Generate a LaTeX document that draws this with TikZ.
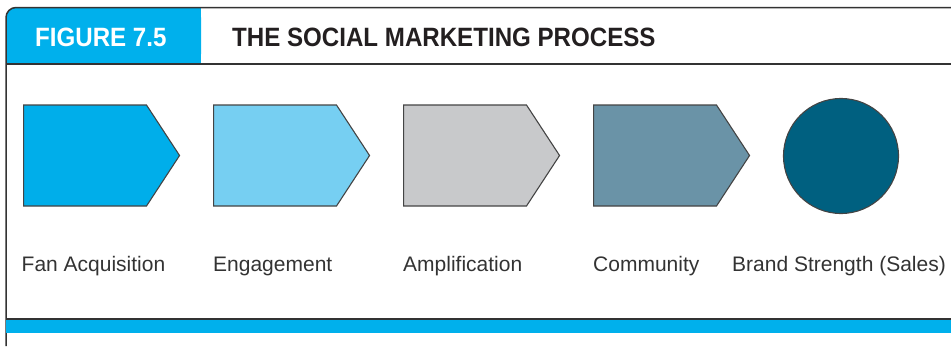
\documentclass[tikz,border=0pt]{standalone}
\usepackage{fontspec}
\setmainfont{Liberation Sans}
\newfontfamily\headfont{Liberation Sans}[FakeStretch=0.91]
\usetikzlibrary{shapes.symbols}
\definecolor{figBlue}{RGB}{0,176,236}
\definecolor{frameLine}{RGB}{51,51,51}
\definecolor{stageLine}{RGB}{68,68,68}
\definecolor{fanFill}{RGB}{0,174,234}
\definecolor{engFill}{RGB}{118,207,242}
\definecolor{ampFill}{RGB}{200,201,203}
\definecolor{comFill}{RGB}{106,147,167}
\definecolor{brandFill}{RGB}{0,96,128}
\definecolor{titleText}{RGB}{35,31,32}
\tikzset{
  frame/.style={draw=frameLine, line width=1.5pt},
  stage/.style={signal, signal to=east, signal pointer angle=113.6,
                draw=stageLine, line width=1.1pt, inner sep=0pt,
                minimum width=156pt, minimum height=101pt, anchor=west},
  goal/.style={circle, draw=stageLine, line width=1.1pt, inner sep=0pt,
               minimum size=115pt, fill=brandFill},
  lbl/.style={font=\fontsize{21}{24}\selectfont, text=black!80,
              inner sep=0pt, anchor=base west},
  head/.style={font=\headfont\bfseries\fontsize{26.5}{30}\selectfont,
               inner sep=0pt, anchor=base west},
}
\begin{document}
\begin{tikzpicture}[x=1pt, y=-1pt]
  \useasboundingbox (0,0) rectangle (951,346);

  % header tab
  \fill[figBlue, rounded corners=10pt] (6,64) -- (6,7.5) -- (201,7.5) -- (201,64) -- cycle;
  \fill[figBlue] (100,7.5) rectangle (201,64);
  \fill[figBlue] (6,30) rectangle (201,64);
  \node[head, text=white] (fignum) at (35,46) {FIGURE 7.5};
  \node[head, text=titleText] (figtitle) at (232,46) {THE SOCIAL MARKETING PROCESS};

  % frame
  \draw[frame, rounded corners=10pt] (6,346) -- (6,7.5) -- (960,7.5);
  \draw[frame] (6,64) -- (960,64);
  \fill[figBlue] (6,319) rectangle (960,333);
  \draw[frame] (6,319) -- (960,319);

  % stages
  \node[stage, fill=fanFill] (fan) at (23,155.5) {};
  \node[stage, fill=engFill] (eng) at (213,155.5) {};
  \node[stage, fill=ampFill] (amp) at (403,155.5) {};
  \node[stage, fill=comFill] (com) at (593,155.5) {};
  \node[goal] (brand) at (841,156) {};

  % labels
  \node[lbl] (fanlbl) at (21.5,271.5) {Fan Acquisition};
  \node[lbl] (englbl) at (213,271.5) {Engagement};
  \node[lbl] (amplbl) at (403,271.5) {Amplification};
  \node[lbl] (comlbl) at (593,271.5) {Community};
  \node[lbl] (brandlbl) at (732,271.5) {Brand Strength (Sales)};
\end{tikzpicture}
\end{document}
